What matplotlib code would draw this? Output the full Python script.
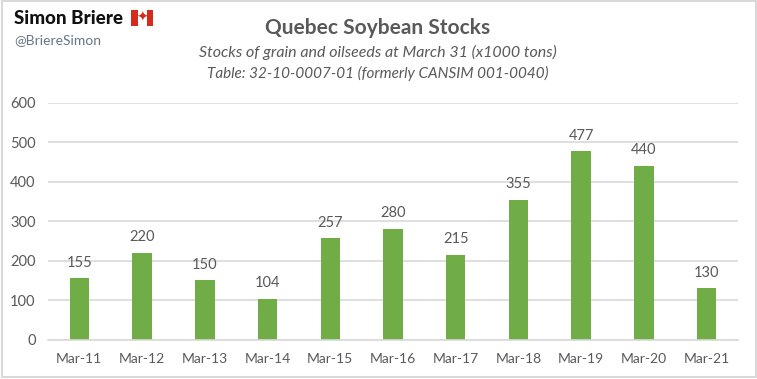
from matplotlib import pyplot as plt
from matplotlib.patches import Rectangle

categories = ["Mar-11", "Mar-12", "Mar-13", "Mar-14", "Mar-15", "Mar-16",
              "Mar-17", "Mar-18", "Mar-19", "Mar-20", "Mar-21"]
stocks = [155, 220, 150, 104, 257, 280, 215, 355, 477, 440, 130]
y_ticks = [0, 100, 200, 300, 400, 500, 600]

W, H = 757, 379
plt.rcParams['font.family'] = ['Lato', 'DejaVu Sans']

fig = plt.figure(figsize=(W / 100, H / 100), dpi=100)
ax = fig.add_axes([48 / W, 1 - 339.5 / H, 690 / W, 236.5 / H])

positions = list(range(len(categories)))
ax.bar(positions, stocks, width=0.31, color="#70AD47")
for x, v in zip(positions, stocks):
    ax.text(x, v + 22, str(v), ha="center", va="bottom", fontsize=10.5, color="#595959")

ax.set_xlim(-0.5, len(categories) - 0.5)
ax.set_ylim(0, 600)
ax.set_xticks(positions)
ax.set_xticklabels(categories)
ax.set_yticks(y_ticks)
ax.tick_params(axis="both", length=0, labelcolor="#595959")
ax.tick_params(axis="x", pad=10, labelsize=10)
ax.tick_params(axis="y", pad=9, labelsize=10.5)
ax.grid(axis="y", color="#D9D9D9", linewidth=1.2)
ax.set_axisbelow(True)
for s in ["top", "left", "right"]:
    ax.spines[s].set_visible(False)
ax.spines["bottom"].set_color("#D9D9D9")
ax.spines["bottom"].set_linewidth(1.2)

# Titles
fig.text(378 / W, 1 - 28 / H, "Quebec Soybean Stocks", ha="center", va="center",
         fontsize=15, fontweight="bold", color="#595959")
fig.text(378 / W, 1 - 52 / H, "Stocks of grain and oilseeds at March 31 (x1000 tons)",
         ha="center", va="center", fontsize=11.5, style="italic", color="#595959")
fig.text(378 / W, 1 - 73 / H, "Table: 32-10-0007-01 (formerly CANSIM 001-0040)",
         ha="center", va="center", fontsize=11, style="italic", color="#595959")

# Twitter handle and flag
fig.text(14 / W, 1 - 19 / H, "Simon Briere", ha="left", va="center",
         fontsize=13.5, fontweight="black", color="#111111")
fig.text(14 / W, 1 - 40 / H, "@BriereSimon", ha="left", va="center",
         fontsize=10, color="#657786")
for left, width in [(131, 6.5), (146.5, 6.5)]:
    fig.add_artist(Rectangle((left / W, 1 - 26 / H), width / W, 16 / H, transform=fig.transFigure,
                             facecolor="#D52B1E", edgecolor="none"))
fig.text(142 / W, 1 - 18 / H, "\u2726", ha="center", va="center", fontsize=10,
         color="#D52B1E", family=["DejaVu Sans"])

# Outer border
fig.add_artist(Rectangle((1.5 / W, 1 - 377 / H), 754 / W, 376 / H, transform=fig.transFigure,
                         facecolor="none", edgecolor="#D9D9D9", linewidth=1.5))

fig.savefig("out.png", dpi=100)
